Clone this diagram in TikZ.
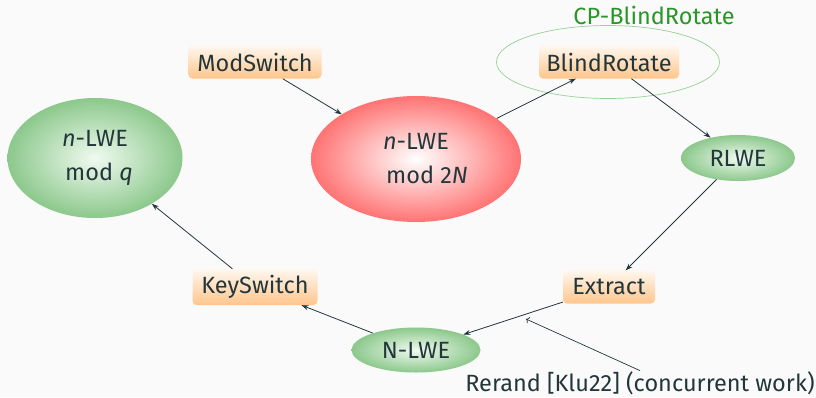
\documentclass[tikz,border=0pt]{standalone}
\usepackage{fontspec}
\setmainfont{Fira Sans}
\usetikzlibrary{shapes.geometric,arrows.meta}
\definecolor{bgc}{HTML}{FAFAFA}
\definecolor{txt}{HTML}{23373B}
\definecolor{grn}{RGB}{140,200,140}
\definecolor{grnin}{RGB}{240,250,240}
\definecolor{redo}{RGB}{255,115,115}
\definecolor{labg}{RGB}{40,150,40}
\definecolor{ringc}{RGB}{150,210,150}
\tikzset{
  every node/.style={text=txt, font=\fontsize{23.5}{27}\selectfont},
  opbox/.style={rectangle, rounded corners=4pt, top color=orange!6, bottom color=orange!45, draw=none, inner sep=0pt},
  gell/.style={ellipse, inner sep=0pt, inner color=grnin, outer color=grn, draw=none},
  rell/.style={ellipse, inner sep=0pt, inner color=white, outer color=redo, draw=none},
  conn/.style={draw=txt, line width=0.8pt, -{Stealth[length=7pt,width=5pt]}},
}
\begin{document}
\begin{tikzpicture}[x=1pt,y=1pt]
\fill[bgc] (0,0) rectangle (816,-397);
\useasboundingbox (0,0) rectangle (816,-397);
% ring around BlindRotate
\node[ellipse, draw=ringc, line width=0.7pt, minimum width=223pt, minimum height=73pt, inner sep=0pt] (ring) at (608,-62) {};
\node[text=labg, anchor=base] (cplabel) at (654,-24) {CP-BlindRotate};
% boxes
\node[opbox, minimum width=133pt, minimum height=33pt] (ms) at (255,-62) {ModSwitch};
\node[opbox, minimum width=140pt, minimum height=33pt] (br) at (609,-62) {BlindRotate};
\node[opbox, minimum width=125pt, minimum height=36pt] (ks) at (255,-287) {KeySwitch};
\node[opbox, minimum width=92pt, minimum height=33pt] (ex) at (609,-287) {Extract};
% ellipses
\node[gell, minimum width=175pt, minimum height=120pt, align=center] (lweq) at (95,-158) {\textit{n}-LWE\\[7pt]\hspace*{8pt}mod \textit{q}};
\node[rell, minimum width=210pt, minimum height=126pt, align=center] (lwen) at (416,-159) {\textit{n}-LWE\\[7pt]\hspace*{22pt}mod 2\textit{N}};
\node[gell, minimum width=114pt, minimum height=46pt] (rlwe) at (738,-158) {RLWE};
\node[gell, minimum width=129pt, minimum height=45pt] (nlwe) at (416,-350) {N-LWE};
% rerand
\node[anchor=base] (rr) at (640,-391) {Rerand [Klu22] (concurrent work)};
\coordinate (rrend) at (526,-319);
% connectors
\draw[conn] (ms) -- (lwen);
\draw[conn] (lwen) -- (br);
\draw[conn] (br) -- (rlwe);
\draw[conn] (rlwe) -- (ex);
\draw[conn] (ex) -- (nlwe);
\draw[conn] (nlwe) -- (ks);
\draw[conn] (ks) -- (lweq);
\draw[draw=txt, line width=0.7pt, ->] (rr.north) ++(0,-3) -- (rrend);
\end{tikzpicture}
\end{document}
